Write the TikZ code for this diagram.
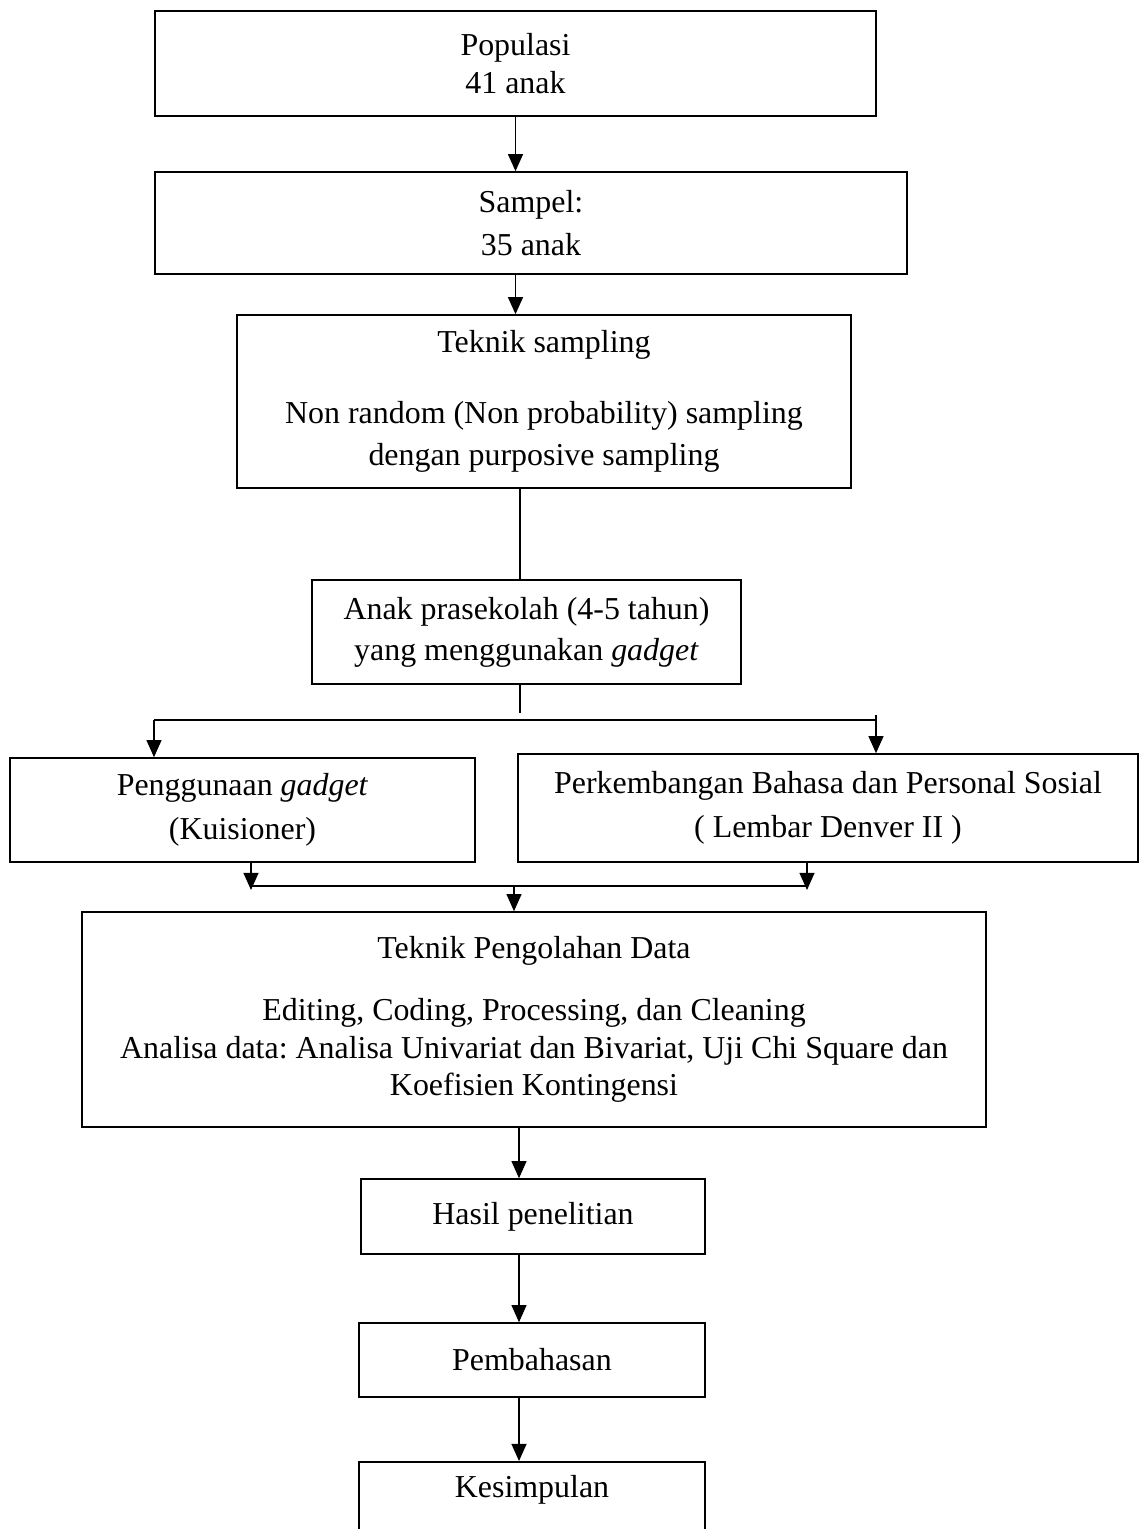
\documentclass[tikz,border=0pt]{standalone}
\usepackage{fontspec}
\setmainfont{Liberation Serif}
\usetikzlibrary{arrows.meta}
\def\pxu{0.376pt}
\frenchspacing
\begin{document}
\begin{tikzpicture}[x=\pxu,y=-\pxu,
    box/.style={draw,line width=0.6pt,align=center,inner sep=0pt,font=\fontsize{12}{14}\selectfont},
    bx/.style 2 args={box,minimum width=#1*\pxu,minimum height=#2*\pxu},
    ln/.style={line width=0.5pt},
    arr/.style={ln,-{Triangle[length=6.4pt,width=5.6pt]}}]
    \useasboundingbox (0,0) rectangle (1142,1529);
    % kotak-kotak alur
    \node[bx={721}{105}] (pop) at (515.5,63.5) {Populasi\\41 anak};
    \node[bx={752}{102}] (sam) at (531,223) {Sampel:\\[2.3pt]35 anak};
    \node[bx={614}{173}] (tek) at (544,401.5) {Teknik sampling\\[12.4pt]Non random (Non probability) sampling\\[1.9pt]dengan purposive sampling};
    \node[bx={429}{104}] (anak) at (526.5,632) {Anak prasekolah (4-5 tahun)\\[1.5pt]yang menggunakan \textit{gadget}};
    \node[bx={465}{104}] (gad) at (242.5,810) {Penggunaan \textit{gadget}\\[2.5pt](Kuisioner)};
    \node[bx={620}{108}] (per) at (828,808) {Perkembangan Bahasa dan Personal Sosial\\[2.5pt]( Lembar Denver II )};
    \node[bx={904}{215}] (pro) at (534,1019.5) {Teknik Pengolahan Data\\[9.3pt]Editing, Coding, Processing, dan Cleaning\\Analisa data: Analisa Univariat dan Bivariat, Uji Chi Square dan\\Koefisien Kontingensi};
    \node[bx={344}{75}] (has) at (533,1216.5) {Hasil penelitian};
    \node[bx={346}{74}] (pem) at (532,1360) {Pembahasan};
    \node[bx={346}{110},anchor=north] (kes) at (532,1461) {};
    \node[box,draw=none] (kestxt) at (532,1490) {Kesimpulan};
    % penghubung
    \coordinate (mid) at (519,0);
    \coordinate (jn) at (520,713);
    \coordinate (la) at (154,720);
    \coordinate (ra) at (876,720);
    \coordinate (rt) at (876,715);
    \coordinate (lb) at (251,886);
    \coordinate (rb) at (807,886);
    \coordinate (mb) at (514,886);
    \draw[arr] (pop.south) -- (pop.south |- sam.north);
    \draw[arr] (pop.south |- sam.south) -- (pop.south |- tek.north);
    \draw[ln] (jn |- tek.south) -- (jn |- anak.north);
    \draw[ln] (jn |- anak.south) -- (jn);
    \draw[ln] (la) -- (ra);
    \draw[arr] (la) -- (la |- gad.north);
    \draw[arr] (rt) -- (rt |- per.north);
    \draw[ln] (lb) -- (rb);
    \draw[arr,shorten >=-1.5pt] (lb |- gad.south) -- (lb);
    \draw[arr,shorten >=-1.5pt] (rb |- per.south) -- (rb);
    \draw[arr] (mb) -- (mb |- pro.north);
    \foreach \a/\b in {pro/has,has/pem,pem/kes}{
      \draw[arr] (mid |- \a.south) -- (mid |- \b.north);
    }
\end{tikzpicture}
\end{document}
